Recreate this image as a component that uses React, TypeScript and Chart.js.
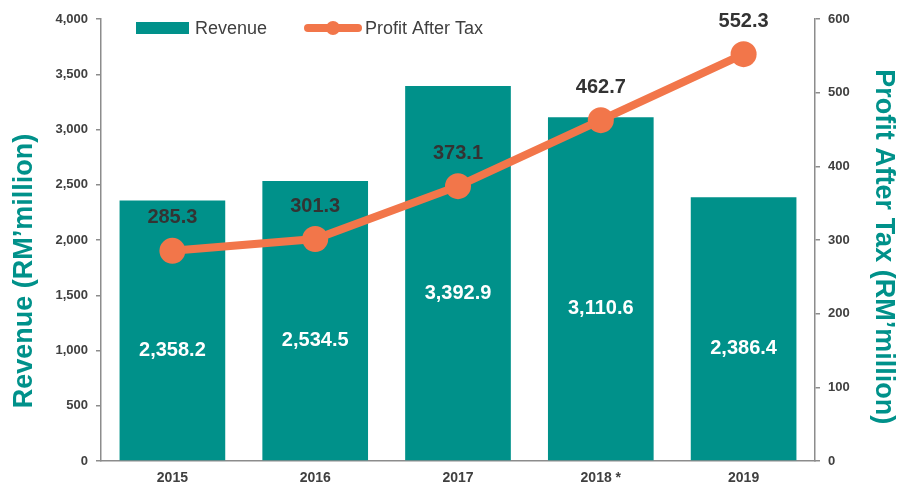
import React, { useEffect, useRef } from "react";
import { Chart, registerables } from "chart.js";
Chart.register(...registerables);

const categories = ["2015", "2016", "2017", "2018 *", "2019"];
const revenue = [2358.2, 2534.5, 3392.9, 3110.6, 2386.4];
const profit = [285.3, 301.3, 373.1, 462.7, 552.3];
const revenueTitle = "Revenue (RM\u2019million)";
const profitTitle = "Profit After Tax (RM\u2019million)";
const legendLabels = ["Revenue", "Profit After Tax"];

const TEAL = "#00918A";
const ORANGE = "#F2764A";
const TEXT = "#404040";
const AXIS = "#8C8C8C";
const FONT = "'Liberation Sans', Arial, Helvetica, sans-serif";

const fmt1 = (v: number) =>
  v.toLocaleString("en-US", { minimumFractionDigits: 1, maximumFractionDigits: 1 });

const labelPlugin = {
  id: "customLabels",
  afterDatasetsDraw(chart: any) {
    const ctx = chart.ctx;
    const area = chart.chartArea;
    ctx.save();
    // bar labels
    const barMeta = chart.getDatasetMeta(1);
    ctx.font = `bold 20px ${FONT}`;
    ctx.fillStyle = "#FFFFFF";
    ctx.textAlign = "center";
    ctx.textBaseline = "middle";
    barMeta.data.forEach((el: any, i: number) => {
      const cy = (el.y + el.base) / 2 + 20;
      ctx.fillText(fmt1(revenue[i]), el.x, cy);
    });
    // line labels
    const lineMeta = chart.getDatasetMeta(0);
    ctx.fillStyle = "#333333";
    lineMeta.data.forEach((el: any, i: number) => {
      ctx.fillText(fmt1(profit[i]), el.x, el.y - 33);
    });
    // legend
    const lx = area.left + 35;
    const ly = area.top + 9;
    ctx.fillStyle = TEAL;
    ctx.fillRect(lx, ly - 6, 53, 12);
    ctx.font = `18px ${FONT}`;
    ctx.fillStyle = TEXT;
    ctx.textAlign = "left";
    ctx.fillText(legendLabels[0], lx + 59, ly + 1);
    const l2 = lx + 168;
    ctx.strokeStyle = ORANGE;
    ctx.lineWidth = 8;
    ctx.lineCap = "round";
    ctx.beginPath();
    ctx.moveTo(l2 + 4, ly);
    ctx.lineTo(l2 + 54, ly);
    ctx.stroke();
    ctx.fillStyle = ORANGE;
    ctx.beginPath();
    ctx.arc(l2 + 29, ly, 7, 0, Math.PI * 2);
    ctx.fill();
    ctx.fillStyle = TEXT;
    ctx.fillText(legendLabels[1], l2 + 61, ly + 1);
    // axis titles
    ctx.font = `bold 27px ${FONT}`;
    ctx.fillStyle = TEAL;
    ctx.textAlign = "center";
    ctx.textBaseline = "middle";
    ctx.save();
    ctx.translate(25, area.top + (area.bottom - area.top) * 0.57);
    ctx.rotate(-Math.PI / 2);
    ctx.fillText(revenueTitle, 0, 0);
    ctx.restore();
    ctx.save();
    ctx.translate(chart.width - 14, area.top + (area.bottom - area.top) * 0.515);
    ctx.rotate(Math.PI / 2);
    ctx.fillText(profitTitle, 0, 0);
    ctx.restore();
    ctx.restore();
  },
};

export default function App() {
  const ref = useRef<HTMLCanvasElement | null>(null);
  useEffect(() => {
    document.body.style.margin = "0";
    if (!ref.current) return;
    const chart = new Chart(ref.current, {
      type: "bar",
      data: {
        labels: categories,
        datasets: [
          {
            type: "line",
            label: legendLabels[1],
            data: profit,
            yAxisID: "y1",
            borderColor: ORANGE,
            backgroundColor: ORANGE,
            borderWidth: 8,
            pointRadius: 13,
            pointHoverRadius: 13,
            pointBackgroundColor: ORANGE,
            pointBorderWidth: 0,
            tension: 0,
            order: 1,
          } as any,
          {
            type: "bar",
            label: legendLabels[0],
            data: revenue,
            yAxisID: "y",
            backgroundColor: TEAL,
            categoryPercentage: 1,
            barPercentage: 0.74,
            order: 2,
          },
        ],
      },
      options: {
        responsive: false,
        animation: false,
        layout: { padding: { top: 19, left: 0, right: 0, bottom: 0 } },
        plugins: { legend: { display: false }, tooltip: { enabled: false } },
        scales: {
          x: {
            grid: { display: false, drawTicks: false },
            border: { display: true, color: AXIS, width: 1.5 },
            ticks: { color: TEXT, font: { family: FONT, size: 14, weight: "bold" }, padding: 9 },
            afterFit: (s: any) => { s.height = 26; },
          },
          y: {
            position: "left",
            min: 0,
            max: 4000,
            ticks: {
              stepSize: 500,
              color: TEXT,
              padding: 8,
              font: { family: FONT, size: 13, weight: "bold" },
              callback: (v: any) => Number(v).toLocaleString("en-US"),
            },
            grid: { drawOnChartArea: false, tickLength: 5, color: AXIS, lineWidth: 1.5 },
            border: { color: AXIS, width: 1.5 },
            afterFit: (s: any) => { s.width = 101; },
          },
          y1: {
            position: "right",
            min: 0,
            max: 600,
            ticks: {
              stepSize: 100,
              color: TEXT,
              padding: 8,
              font: { family: FONT, size: 13, weight: "bold" },
            },
            grid: { drawOnChartArea: false, tickLength: 5, color: AXIS, lineWidth: 1.5 },
            border: { color: AXIS, width: 1.5 },
            afterFit: (s: any) => { s.width = 82; },
          },
        },
      } as any,
      plugins: [labelPlugin],
    });
    return () => chart.destroy();
  }, []);
  return (
    <div style={{ width: 897, height: 487 }}>
      <canvas ref={ref} width={897} height={487} />
    </div>
  );
}
